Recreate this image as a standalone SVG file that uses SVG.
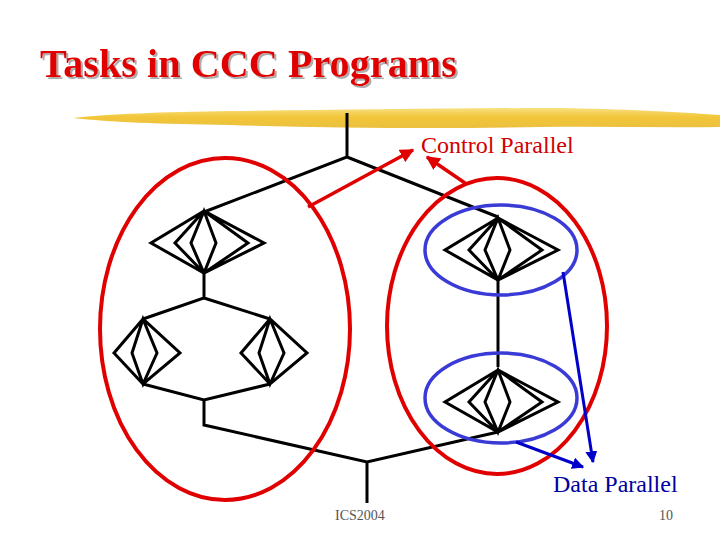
<svg xmlns="http://www.w3.org/2000/svg" width="720" height="540" viewBox="0 0 720 540">
<style>
.t{fill:none;stroke:#000;stroke-width:3;stroke-linejoin:miter}
.re{fill:none;stroke:#E00000;stroke-width:4}
.be{fill:none;stroke:#3A3AD6;stroke-width:3.5}
.ra{fill:none;stroke:#E00000;stroke-width:3.5}
.ba{fill:none;stroke:#0000C8;stroke-width:3}
.f{font-family:"Liberation Serif","Times New Roman",serif}
</style>
<defs>
<filter id="sh" x="-5%" y="-20%" width="110%" height="140%">
<feDropShadow dx="2" dy="2" stdDeviation="0.6" flood-color="#999" flood-opacity="0.8"/>
</filter>
<linearGradient id="yg" x1="0" y1="0" x2="0" y2="1">
<stop offset="0" stop-color="#F8E080"/>
<stop offset="0.45" stop-color="#F2C638"/>
<stop offset="1" stop-color="#EBC040"/>
</linearGradient>
<marker id="mr" viewBox="0 0 10 10" refX="9" refY="5" markerWidth="4" markerHeight="4" orient="auto" markerUnits="strokeWidth"><path d="M0,0 L10,5 L0,10 z" fill="#E00000"/></marker>
<marker id="mb" viewBox="0 0 10 10" refX="9" refY="5" markerWidth="4" markerHeight="4" orient="auto" markerUnits="strokeWidth"><path d="M0,0 L10,5 L0,10 z" fill="#0000C8"/></marker>
<g id="d3">
<path class="t" d="M0,0 L-53,32 L0,62 L60,32 Z M0,0 L-29,32 L0,62 L44,32 Z M0,0 L-13,32 L0,62 L12,32 Z"/>
</g>
<g id="d2">
<path class="t" d="M0,0 L-29,34 L0,65 L37,34 Z M0,0 L-11,34 L0,65 L14,34 Z"/>
</g>
</defs>
<rect width="720" height="540" fill="#fff"/>
<g id="title">
<text class="f" x="40" y="77" font-size="41" font-weight="bold" fill="#E00000" textLength="417" lengthAdjust="spacingAndGlyphs" filter="url(#sh)">Tasks in CCC Programs</text>
</g>
<path id="brush" d="M73,118 C110,114 160,112 230,111 C330,110 450,108 560,108 C620,109 680,112 720,115 L720,127 C660,128 600,126 540,127 C440,129 330,128 230,125 C160,124 110,122 73,118 Z" fill="url(#yg)"/>
<g id="connectors">
<path class="t" d="M347,113 L347,157 L204,212 M347,157 L498,217"/>
<path class="t" d="M204,273 L204,298 L143,319 M204,298 L270,319"/>
<path class="t" d="M143,384 L204,400 L270,384 M204,400 L204,425 L367,462 L498,432 M367,462 L367,503"/>
<path class="t" d="M498,280 L498,367"/>
</g>
<g id="n1"><use href="#d3" x="204" y="211"/></g>
<g id="n2"><use href="#d2" x="143" y="319"/></g>
<g id="n3"><use href="#d2" x="270" y="319"/></g>
<g id="n4"><use href="#d3" x="498" y="218"/></g>
<g id="n5"><use href="#d3" x="498" y="370"/></g>
<g id="groups">
<ellipse class="re" cx="225" cy="329" rx="125" ry="171"/>
<ellipse class="re" cx="497" cy="326" rx="110" ry="148"/>
<ellipse class="be" cx="501" cy="250" rx="76" ry="45"/>
<ellipse class="be" cx="501" cy="398" rx="76" ry="45"/>
</g>
<g id="arrows">
<line class="ra" x1="308" y1="207" x2="413" y2="150" marker-end="url(#mr)"/>
<line class="ra" x1="465" y1="183" x2="427" y2="157" marker-end="url(#mr)"/>
<line class="ba" x1="563" y1="272" x2="593" y2="462" marker-end="url(#mb)"/>
<line class="ba" x1="516" y1="442" x2="583" y2="467" marker-end="url(#mb)"/>
</g>
<g id="labels">
<text class="f" x="421" y="153" font-size="24" fill="#D00000">Control Parallel</text>
<text class="f" x="553" y="492" font-size="24" fill="#0000A0">Data Parallel</text>
<text class="f" x="335" y="520" font-size="14" fill="#555">ICS2004</text>
<text class="f" x="659" y="520" font-size="14" fill="#555">10</text>
</g>
</svg>
